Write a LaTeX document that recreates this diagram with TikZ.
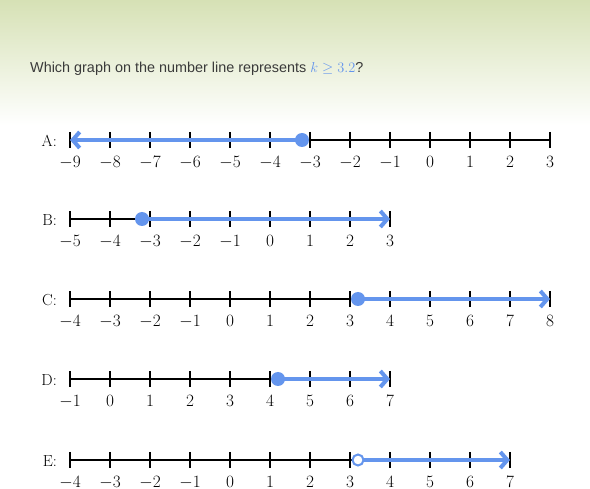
\documentclass[tikz,border=0pt]{standalone}
\usepackage{fontspec}
\usetikzlibrary{arrows.meta,positioning,calc}
\newfontfamily\questionfont{Liberation Sans}
\definecolor{rayblue}{HTML}{6495ED}
\definecolor{bggreen}{HTML}{D6E1B5}
\definecolor{questionink}{HTML}{3A3A3A}

\begin{document}
\begin{tikzpicture}[
  x=1pt, y=-1pt,
  axis/.style={line width=2pt, black},
  tickmark/.style={line width=2pt, black},
  ray/.style={line width=4pt, rayblue, -{Straight Barb[length=7pt,width=16pt]}},
  ticklabel/.style={anchor=base, inner sep=0pt, font=\fontsize{16}{18}\selectfont},
  rowlabel/.style={anchor=base east, inner sep=0pt, font=\fontsize{16}{18}\selectfont},
  dotfilled/.style={circle, fill=rayblue, inner sep=0pt, minimum size=14pt},
  dotopen/.style={circle, draw=rayblue, fill=white, line width=2pt, inner sep=0pt, minimum size=11pt},
]
% --- Page and header band ---
\useasboundingbox (0,0) rectangle (590,489);
\fill[white] (0,0) rectangle (590,489);
\shade[top color=bggreen, bottom color=white] (0,0) rectangle (590,125);

% --- Question ---
\node[anchor=base west, inner sep=0pt, text=questionink,
      font=\questionfont\fontsize{14.4}{16}\selectfont] (question) at (30,73)
  {Which graph on the number line represents \textcolor{rayblue}{$k\geq 3.2$}?};

% --- Number lines: name / y / first / last / point / ray end / dot ---
\foreach \r/\yy/\lo/\hi/\pt/\dir/\dotkind in {
    A/140/-9/3/-3.2/lo/dotfilled,
    B/219/-5/3/-3.2/hi/dotfilled,
    C/299/-4/8/3.2/hi/dotfilled,
    D/379/-1/7/4.2/hi/dotfilled,
    E/460/-4/7/3.2/hi/dotopen} {
  \coordinate (\r lo) at (70,\yy);
  \coordinate (\r hi) at ({70+(\hi-\lo)*40},\yy);
  \coordinate (\r pt) at ({70+(\pt-\lo)*40},\yy);
  \node[rowlabel] (\r name) at ($(\r lo)+(-13,6.5)$) {\r:};
  \draw[axis] (\r lo) -- (\r hi);
  \foreach \v in {\lo,...,\hi} {
    \coordinate (\r t\v) at ({70+(\v-\lo)*40},\yy);
    \draw[tickmark] ($(\r t\v)+(0,-8)$) -- ($(\r t\v)+(0,8)$);
    \node[ticklabel] (\r n\v) at ($(\r t\v)+(0,28)$) {$\v$};
  }
  \draw[ray] (\r pt) -- (\r \dir);
  \node[\dotkind] (\r dot) at (\r pt) {};
}
\end{tikzpicture}
\end{document}
